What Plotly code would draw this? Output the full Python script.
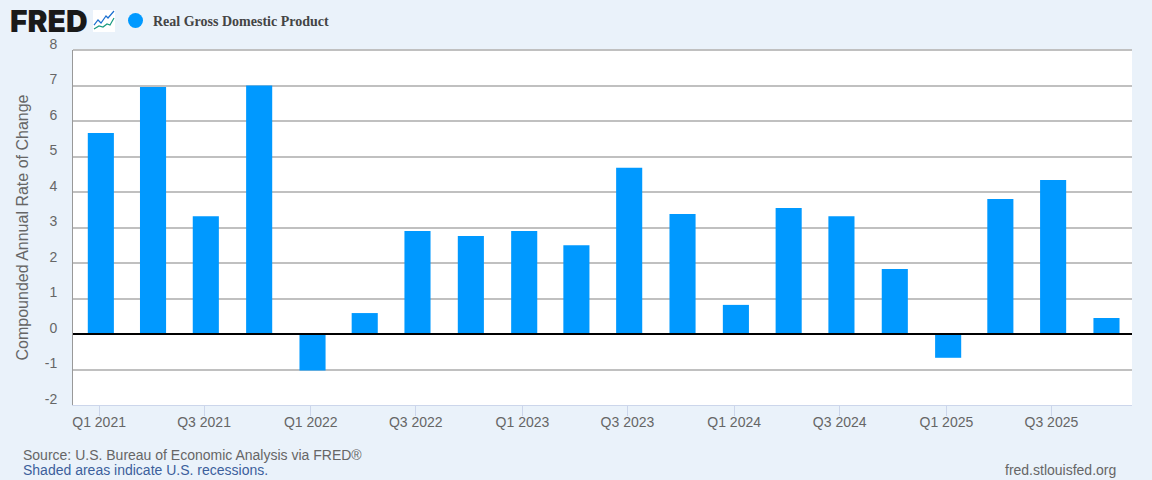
import plotly.graph_objects as go

W, H = 1152, 480
LEFT, RIGHT, TOP, BOTTOM = 73, 1132, 50, 405

quarters = ["2021-01-01", "2021-04-01", "2021-07-01", "2021-10-01",
            "2022-01-01", "2022-04-01", "2022-07-01", "2022-10-01",
            "2023-01-01", "2023-04-01", "2023-07-01", "2023-10-01",
            "2024-01-01", "2024-04-01", "2024-07-01", "2024-10-01",
            "2025-01-01", "2025-04-01", "2025-07-01", "2025-10-01"]
gdp_growth = [5.66, 6.96, 3.32, 7.0, -1.03, 0.59, 2.9, 2.76, 2.9, 2.5,
              4.68, 3.38, 0.82, 3.55, 3.32, 1.83, -0.67, 3.8, 4.34, 0.45]

tick_dates = ["2021-01-01", "2021-07-01", "2022-01-01", "2022-07-01", "2023-01-01",
              "2023-07-01", "2024-01-01", "2024-07-01", "2025-01-01", "2025-07-01"]
tick_labels = ["Q1 2021", "Q3 2021", "Q1 2022", "Q3 2022", "Q1 2023",
               "Q3 2023", "Q1 2024", "Q3 2024", "Q1 2025", "Q3 2025"]
y_ticks = [-2, -1, 0, 1, 2, 3, 4, 5, 6, 7, 8]
y_labels = ["-2", "-1", "0", "1", "2", "3", "4", "5", "6", "7", "8"]

DAY_MS = 86400000
BAR_BLUE = "#0099ff"
BG = "#eaf2fa"
GRID = "#c0c0c0"
FONT = "Liberation Sans"


def px(x):
    return (x - LEFT) / (RIGHT - LEFT)


def py(y):
    return (BOTTOM - y) / (BOTTOM - TOP)


def note(x, y, text, size=14, color="#666666", family=FONT, anchor="left", **kw):
    return dict(x=px(x), y=py(y), xref="paper", yref="paper", text=text, showarrow=False,
                xanchor=anchor, yanchor="middle",
                font=dict(size=size, color=color, family=family, **kw))


def path(points):
    return "M " + " L ".join(f"{px(x):.5f},{py(y):.5f}" for x, y in points)


fig = go.Figure(go.Bar(
    x=quarters,
    y=gdp_growth,
    width=45 * DAY_MS,
    offset=-19.5 * DAY_MS,
    marker=dict(color=BAR_BLUE, line=dict(width=0)),
))

shapes = [
    # top gridline gets dropped at the range edge, so draw it
    dict(type="line", xref="paper", yref="paper", x0=0, x1=1, y0=1, y1=1, line=dict(color=GRID, width=2), layer="above"),
    # zero line on top of the bars
    dict(type="line", xref="paper", yref="y", x0=0, x1=1, y0=0, y1=0, line=dict(color="#000000", width=2), layer="above"),
    # legend dot
    dict(type="circle", xref="paper", yref="paper", x0=px(128), x1=px(143), y0=py(28), y1=py(13),
         fillcolor=BAR_BLUE, line=dict(width=0)),
    # little chart icon next to the logo
    dict(type="rect", xref="paper", yref="paper", x0=px(93), x1=px(115), y0=py(32), y1=py(10),
         fillcolor="#ffffff", line=dict(width=0)),
    dict(type="path", xref="paper", yref="paper", path=path([(94, 25), (98, 20), (101, 23), (106, 16), (108, 18), (114, 11)]),
         line=dict(color="#1a6fd0", width=1.2)),
    dict(type="path", xref="paper", yref="paper", path=path([(94, 29), (99, 26), (103, 27), (107, 24), (110, 25), (114, 18)]),
         line=dict(color="#1a9a80", width=1.2)),
]

annotations = [
    note(8, 21, "FRED", size=30, color="#1a1a1a", family="Inter", weight=900),
    note(151, 21, "Real Gross Domestic Product", size=14, color="#444444", family="Liberation Serif", weight="bold"),
    note(21, 455, "Source: U.S. Bureau of Economic Analysis via FRED®"),
    note(21, 470, "Shaded areas indicate U.S. recessions.", color="#3c5f9c"),
    note(1118, 470, "fred.stlouisfed.org", anchor="right"),
]

fig.update_layout(
    width=W,
    height=H,
    margin=dict(l=LEFT, r=W - RIGHT, t=TOP, b=H - BOTTOM, pad=0),
    paper_bgcolor=BG,
    plot_bgcolor="#ffffff",
    showlegend=False,
    font=dict(family=FONT, size=14, color="#666666"),
    shapes=shapes,
    annotations=annotations,
    xaxis=dict(
        type="date",
        range=["2020-11-17", "2025-11-17"],
        tickmode="array",
        tickvals=tick_dates,
        ticktext=tick_labels,
        ticks="outside",
        ticklen=10,
        tickcolor="#ccd6eb",
        tickwidth=1,
        showgrid=False,
        showline=True,
        linecolor="#ccd6eb",
        linewidth=1,
        zeroline=False,
        ticklabelstandoff=-6,
        tickfont=dict(size=14, color="#666666"),
    ),
    yaxis=dict(
        range=[-2, 8],
        tickmode="array",
        tickvals=y_ticks,
        ticktext=y_labels,
        ticks="",
        showgrid=True,
        gridcolor=GRID,
        gridwidth=2,
        showline=True,
        linecolor="#999999",
        linewidth=1,
        zeroline=False,
        ticklabelstandoff=12,
        ticklabelshift=-6,
        tickfont=dict(size=14, color="#666666"),
        title=dict(text="Compounded Annual Rate of Change", standoff=12, font=dict(size=16, color="#666666")),
    ),
)

fig.write_html("out.html", config=dict(displayModeBar=False), post_script="document.body.style.margin='0';")
